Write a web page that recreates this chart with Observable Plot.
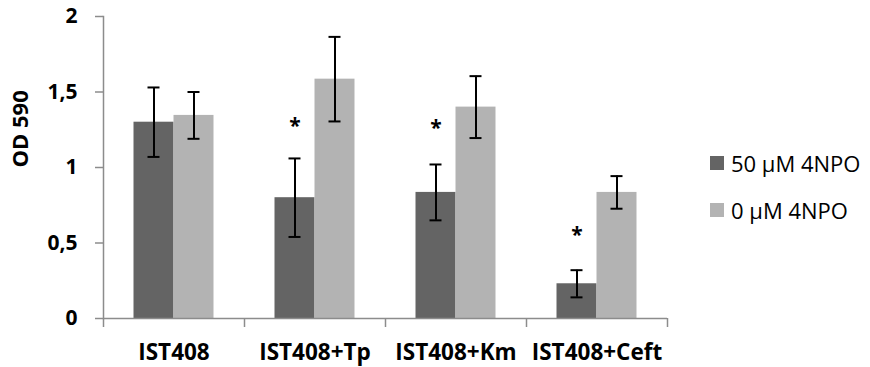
<!DOCTYPE html>
<html>
<head>
<meta charset="utf-8">
<script src="https://cdn.jsdelivr.net/npm/d3@7"></script>
<script src="https://cdn.jsdelivr.net/npm/@observablehq/plot@0.6"></script>
<style>
  html, body { margin: 0; padding: 0; background: #fff; }
  #wrap { position: relative; width: 870px; height: 367px; font-family: "Open Sans", sans-serif; }
  #legend { position: absolute; left: 710px; top: 146px; font-size: 22px; color: #000; }
  .row { display: flex; align-items: center; height: 34px; margin-bottom: 13px; }
  .sw { width: 14px; height: 14px; margin-right: 7px; }
</style>
</head>
<body>
<div id="wrap"></div>
<script>
const categories = ["IST408", "IST408+Tp", "IST408+Km", "IST408+Ceft"];
const seriesNames = ["50 µM 4NPO", "0 µM 4NPO"];
const seriesColors = ["#646464", "#b3b3b3"];
const values50 = [1.30, 0.80, 0.835, 0.23];
const errors50 = [0.23, 0.26, 0.185, 0.09];
const values0 = [1.345, 1.585, 1.40, 0.835];
const errors0 = [0.155, 0.28, 0.205, 0.108];
const starValues = [null, 1.27, 1.26, 0.55];
const yTicks = [0, 0.5, 1, 1.5, 2];

const rows = [];
categories.forEach((c, i) => {
  rows.push({cat: c, s: 0, v: values50[i], lo: values50[i] - errors50[i], hi: values50[i] + errors50[i]});
  rows.push({cat: c, s: 1, v: values0[i], lo: values0[i] - errors0[i], hi: values0[i] + errors0[i]});
});
const stars = categories.map((c, i) => ({cat: c, y: starValues[i]})).filter(d => d.y != null);

const offsets = [-20, 20];
const marks = [];
[0, 1].forEach(s => {
  const d = rows.filter(r => r.s === s);
  const dx = offsets[s];
  marks.push(Plot.barY(d, {x: "cat", y: "v", fill: seriesColors[s], insetLeft: 50.5 + dx, insetRight: 50.5 - dx}));
});
[0, 1].forEach(s => {
  const d = rows.filter(r => r.s === s);
  const dx = offsets[s];
  marks.push(Plot.ruleX(d, {x: "cat", y1: "lo", y2: "hi", dx, stroke: "#000", strokeWidth: 2}));
  marks.push(Plot.tickY(d, {x: "cat", y: "hi", dx, stroke: "#000", strokeWidth: 2, insetLeft: 64.5, insetRight: 64.5}));
  marks.push(Plot.tickY(d, {x: "cat", y: "lo", dx, stroke: "#000", strokeWidth: 2, insetLeft: 64.5, insetRight: 64.5}));
});
marks.push(Plot.text(stars, {x: "cat", y: "y", dx: -20, text: () => "*", fontSize: 21, fontWeight: "bold", fill: "#000"}));
marks.push(Plot.frame({anchor: "left", stroke: "#8c8c8c", strokeWidth: 1.5}));
marks.push(Plot.ruleY([0], {stroke: "#8c8c8c", strokeWidth: 1.5}));
marks.push(Plot.axisY({ticks: yTicks, tickSize: 8, tickPadding: 18, stroke: "#8c8c8c", strokeWidth: 1.5,
  tickFormat: d => String(d).replace(".", ","), fontSize: 21, fontWeight: "bold", label: null}));
marks.push(Plot.axisX({tickSize: 9, dx: -70.5, stroke: "#8c8c8c", strokeWidth: 1.5, tickFormat: () => "", label: null}));
marks.push(Plot.axisX({ticks: [categories[categories.length - 1]], tickSize: 9, dx: 70.5, stroke: "#8c8c8c", strokeWidth: 1.5, tickFormat: () => "", label: null}));
marks.push(Plot.axisX({tickSize: 0, tickPadding: 26, fontSize: 22.5, fontWeight: "bold", label: null}));
marks.push(Plot.text(["OD 590"], {frameAnchor: "left", dx: -83, rotate: -90, fontSize: 22, fontWeight: "bold", fill: "#000"}));

const chart = Plot.plot({
  width: 870,
  height: 367,
  marginLeft: 103,
  marginRight: 203,
  marginTop: 16,
  marginBottom: 49,
  style: {fontFamily: "Open Sans, sans-serif", color: "#000", background: "#fff", overflow: "visible"},
  x: {domain: categories, padding: 0, axis: null},
  y: {domain: [0, 2], axis: null},
  marks
});
const wrap = document.getElementById("wrap");
wrap.appendChild(chart);

const legend = document.createElement("div");
legend.id = "legend";
seriesNames.forEach((n, i) => {
  const row = document.createElement("div");
  row.className = "row";
  const sw = document.createElement("div");
  sw.className = "sw";
  sw.style.background = seriesColors[i];
  const t = document.createElement("span");
  t.textContent = n;
  row.appendChild(sw);
  row.appendChild(t);
  legend.appendChild(row);
});
wrap.appendChild(legend);
</script>
</body>
</html>
